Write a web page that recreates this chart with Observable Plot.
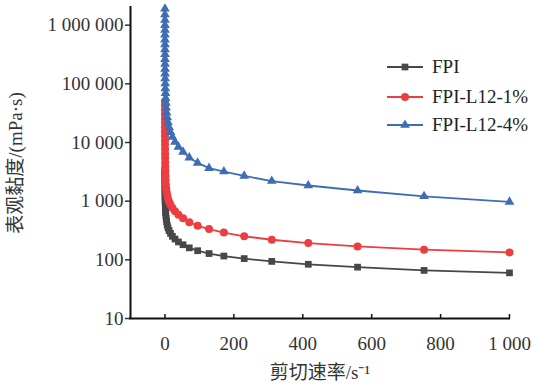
<!DOCTYPE html>
<html><head><meta charset="utf-8">
<script src="https://cdn.jsdelivr.net/npm/d3@7"></script>
<script src="https://cdn.jsdelivr.net/npm/@observablehq/plot@0.6"></script>
<style>
body{margin:0;background:#fff;}
#wrap{position:relative;width:537px;height:387px;overflow:hidden;}
.lrow{position:absolute;left:386px;height:28px;display:flex;align-items:center;font-family:"Liberation Serif","Times New Roman",serif;font-size:19px;color:#222;white-space:nowrap;}
.lrow svg{margin-right:8px;}
</style></head><body><div id="wrap"></div>
<script>
// shear rate (s^-1)
const shearRate = [0.01, 0.0134, 0.018, 0.0242, 0.0325, 0.0437, 0.0587, 0.0789, 0.106, 0.142,
  0.191, 0.257, 0.345, 0.464, 0.624, 0.838, 1.13, 1.51, 2.03, 2.73,
  3.67, 4.93, 6.63, 8.91, 12.0, 16.1, 21.6, 29.1, 39.1, 52.5,
  70.6, 94.9, 128, 171, 230, 310, 416, 559, 752, 1000];
// apparent viscosity (mPa·s)
const viscFPI = [3400, 3200, 3000, 2800, 2600, 2400, 2200, 2000, 1820, 1650,
  1500, 1350, 1220, 1100, 990, 890, 800, 720, 640, 570,
  505, 445, 390, 350, 315, 282, 252, 226, 202, 181,
  160, 143, 128, 116, 105, 94, 84, 75, 66, 60];
const viscL1 = [50000, 43200, 36300, 30500, 25700, 21600, 18200, 15300, 12900, 10800,
  9120, 7670, 6460, 5430, 4570, 3850, 3240, 2720, 2290, 1930,
  1620, 1420, 1250, 1100, 975, 865, 765, 670, 585, 510,
  438, 380, 335, 292, 252, 220, 193, 169, 149, 134];
const viscL4 = [1900000, 1520000, 1230000, 1000000, 830000, 685000, 566000, 468000, 386000, 319000,
  264000, 218000, 180000, 149000, 123000, 101000, 83800, 69200, 57100, 47200,
  39000, 32200, 26600, 22000, 18200, 15000, 12400, 10200, 8400, 6900,
  5520, 4500, 3650, 3200, 2700, 2200, 1850, 1520, 1210, 970];

const seriesNames = ["FPI", "FPI-L12-1%", "FPI-L12-4%"];
const seriesValues = [viscFPI, viscL1, viscL4];
const seriesColors = ["#474747", "#ec3d40", "#3e6db5"];
const seriesSymbols = ["square", "circle", "triangle"];
const seriesR = [3.8, 4, 3.6];

const xTicks = [0, 200, 400, 600, 800, 1000];
const yTicks = [10, 100, 1000, 10000, 100000, 1000000];
const xTitle = "剪切速率/s⁻¹";
const yTitle = "表观黏度/(mPa·s)";

const fmt = v => d3.format(",")(v).replace(/,/g, " ");

const seriesMarks = [];
seriesNames.forEach((name, k) => {
  const data = shearRate.map((x, i) => ({x, y: seriesValues[k][i], s: name}));
  seriesMarks.push(Plot.line(data, {x: "x", y: "y", stroke: seriesColors[k], strokeWidth: 1.8}));
  seriesMarks.push(Plot.dot(data, {x: "x", y: "y", symbol: seriesSymbols[k], r: seriesR[k], fill: seriesColors[k], stroke: "none"}));
});

const chart = Plot.plot({
  width: 537, height: 387,
  marginLeft: 130, marginRight: 28, marginTop: 7, marginBottom: 69,
  style: {fontFamily: '"Liberation Serif", "Times New Roman", "Noto Sans CJK SC", serif', fontSize: "19px", color: "#222", background: "white"},
  x: {domain: [-100, 1000]},
  y: {type: "log", domain: [10, 2000000]},
  marks: [
    Plot.axisY({ticks: yTicks, tickFormat: fmt, tickSize: 5, tickPadding: 2, strokeWidth: 1.5, fontSize: 19, label: yTitle, labelAnchor: "center", labelOffset: 122, labelArrow: "none", color: "#333"}),
    Plot.axisX({ticks: xTicks, tickFormat: fmt, tickSize: 0, tickPadding: 18, fontSize: 19, label: xTitle, labelAnchor: "center", labelOffset: 60, labelArrow: "none", color: "#333"}),
    ...seriesMarks,
    Plot.ruleX(xTicks, {y1: 10, y2: 10, insetTop: -4, stroke: "#111", strokeWidth: 1.5}),
    Plot.ruleY([10], {stroke: "#111", strokeWidth: 2, strokeLinecap: "square"}),
    Plot.ruleX([-100], {stroke: "#111", strokeWidth: 2, strokeLinecap: "square"})
  ]
});

const wrap = document.getElementById("wrap");
wrap.appendChild(chart);

const rowCenters = [67, 97, 125];
seriesNames.forEach((name, k) => {
  const row = document.createElement("div");
  row.className = "lrow";
  row.style.top = (rowCenters[k] - 14) + "px";
  const sym = d3.symbol(k === 0 ? d3.symbolSquare : k === 1 ? d3.symbolCircle : d3.symbolTriangle, Math.PI * seriesR[k] * seriesR[k])();
  row.innerHTML = `<svg width="38" height="14"><line x1="1" x2="37" y1="7" y2="7" stroke="${seriesColors[k]}" stroke-width="1.8"/><path d="${sym}" transform="translate(19,7)" fill="${seriesColors[k]}"/></svg><span>${name}</span>`;
  wrap.appendChild(row);
});
</script></body></html>
